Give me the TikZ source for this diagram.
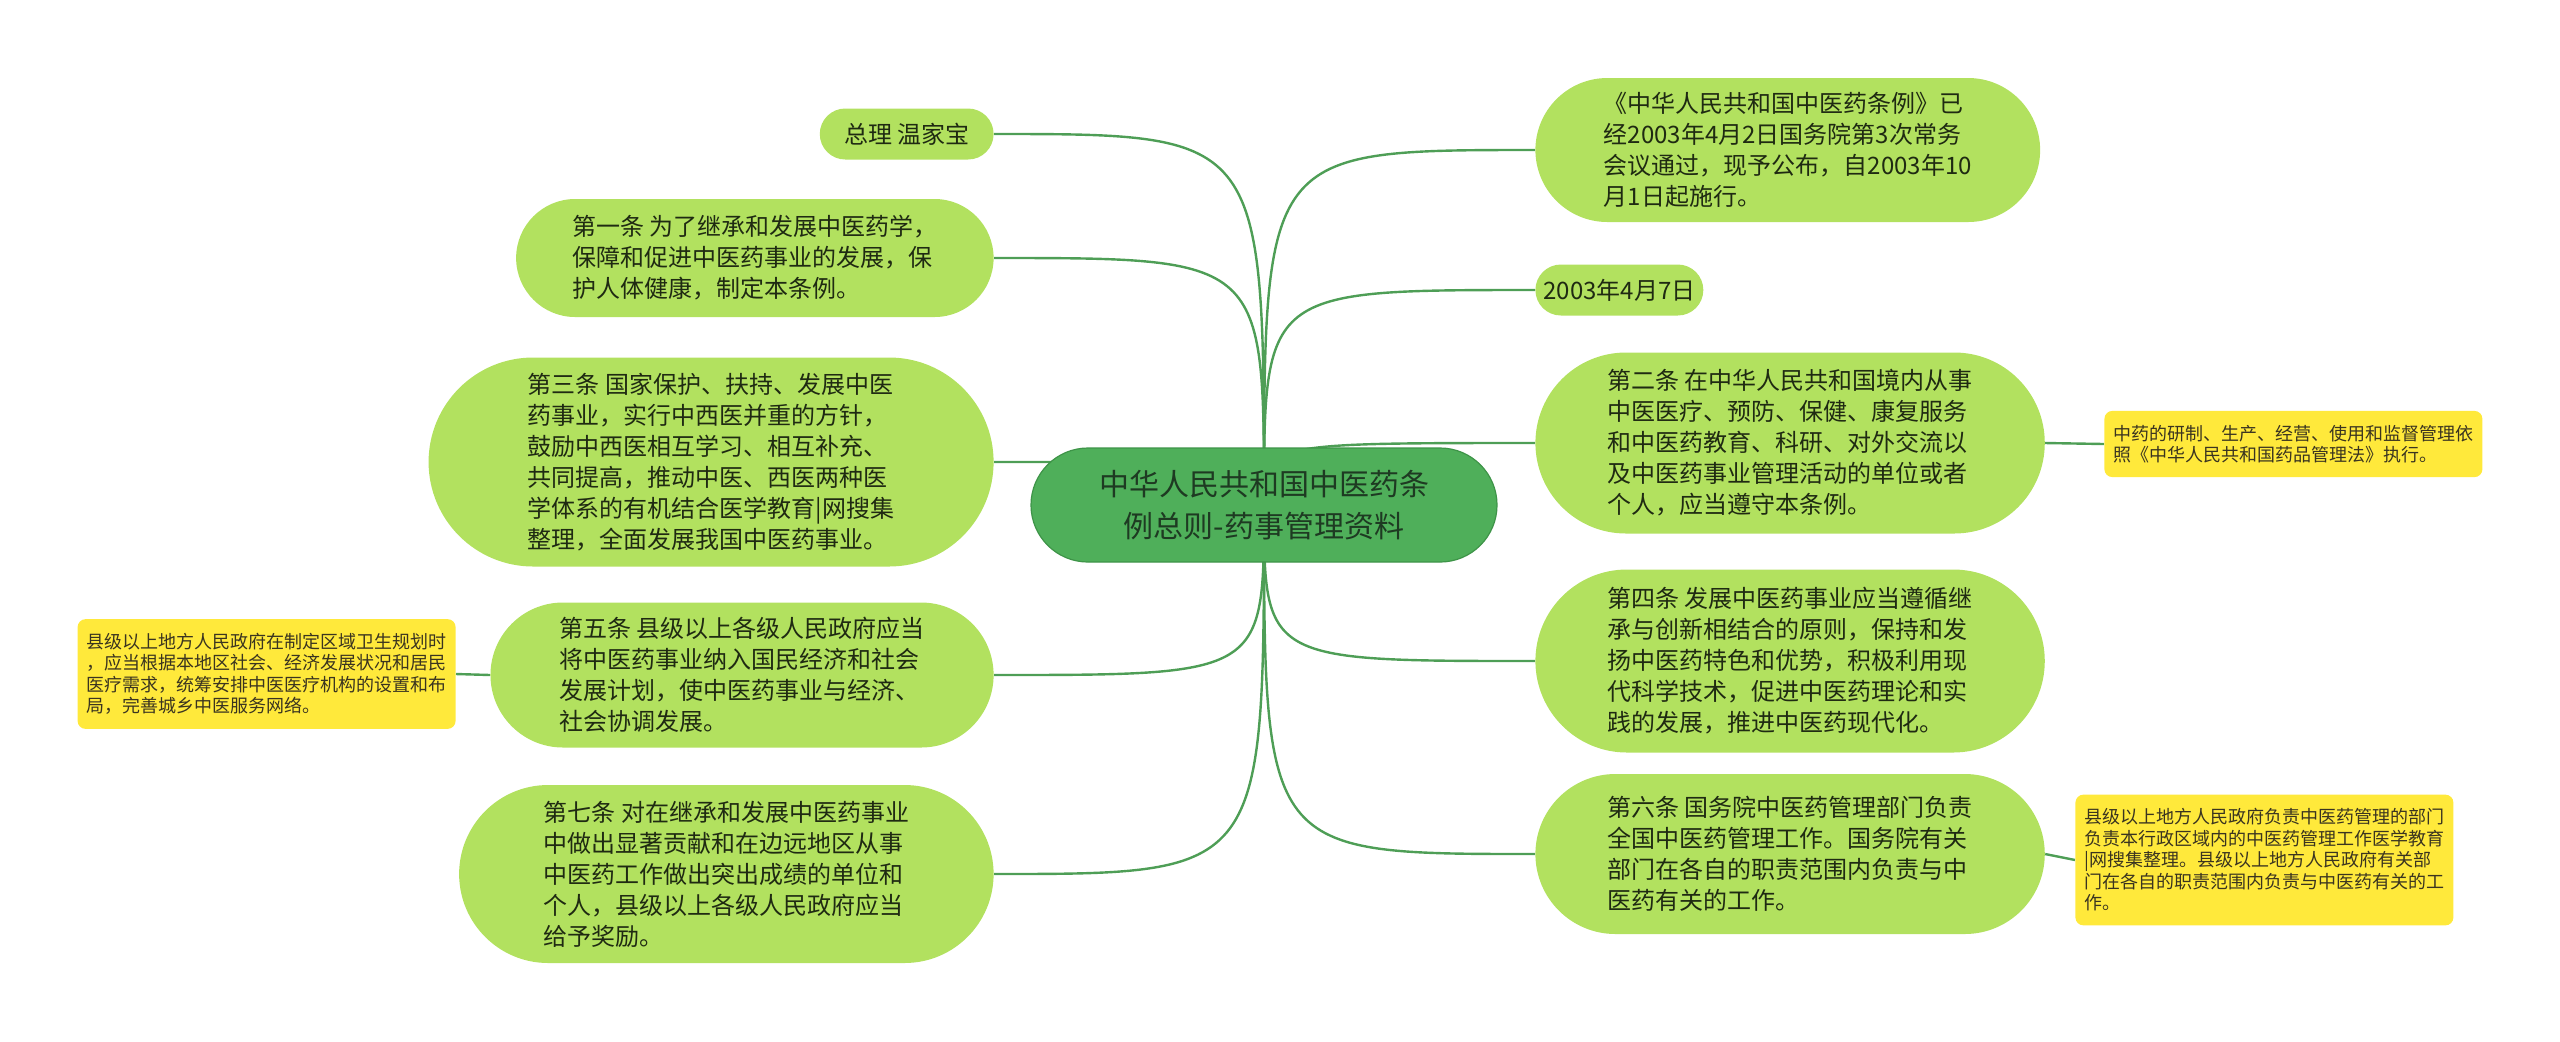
\documentclass[tikz,border=0pt]{standalone}
\usepackage{fontspec}
\setmainfont{Noto Sans CJK SC}
\usetikzlibrary{backgrounds}

\definecolor{leafgreen}{HTML}{B2E15F}
\definecolor{leaftext}{HTML}{1F2A12}
\definecolor{rootgreen}{HTML}{4FAF5A}
\definecolor{rootline}{HTML}{3E9448}
\definecolor{roottext}{HTML}{1E3A22}
\definecolor{branchgreen}{HTML}{4E9E56}
\definecolor{noteyellow}{HTML}{FFE93B}
\definecolor{notetext}{HTML}{3A3420}

\tikzset{
  leaf/.style={rectangle, rounded corners=#1, minimum height=2*#1,
    inner xsep=0.95*#1, inner ysep=2pt, fill=leafgreen, text=leaftext, align=left,
    font=\fontsize{12pt}{15.5pt}\selectfont},
  root/.style={rectangle, rounded corners=28.5pt, minimum height=57pt,
    inner xsep=34pt, inner ysep=2pt, fill=rootgreen, draw=rootline, line width=0.6pt,
    text=roottext, align=center, font=\fontsize{15pt}{21pt}\selectfont},
  note/.style={rectangle, rounded corners=4pt, fill=noteyellow, text=notetext,
    align=left, inner xsep=4.5pt, inner ysep=7pt,
    font=\fontsize{9pt}{10.75pt}\selectfont},
  branch/.style={draw=branchgreen, line width=1.2pt},
}

\begin{document}
\begin{tikzpicture}[x=0.5pt, y=-0.5pt]
  \useasboundingbox (0,0) rectangle (2560,1041);
  \node[root] (root) at (1264,505) {中华人民共和国中医药条\\例总则-药事管理资料};
  % left side
  \node[leaf=12.75pt, anchor=east] (zongli) at (994,134) {总理 温家宝};
  \node[leaf=29.5pt, anchor=east] (art1) at (994,258) {第一条 为了继承和发展中医药学，\\保障和促进中医药事业的发展，保\\护人体健康，制定本条例。};
  \node[leaf=52.25pt, anchor=east] (art3) at (994,462) {第三条 国家保护、扶持、发展中医\\药事业，实行中西医并重的方针，\\鼓励中西医相互学习、相互补充、\\共同提高，推动中医、西医两种医\\学体系的有机结合医学教育|网搜集\\整理，全面发展我国中医药事业。};
  \node[leaf=36.25pt, anchor=east] (art5) at (994,675) {第五条 县级以上各级人民政府应当\\将中医药事业纳入国民经济和社会\\发展计划，使中医药事业与经济、\\社会协调发展。};
  \node[leaf=44.5pt, anchor=east] (art7) at (994,874) {第七条 对在继承和发展中医药事业\\中做出显著贡献和在边远地区从事\\中医药工作做出突出成绩的单位和\\个人，县级以上各级人民政府应当\\给予奖励。};
  \node[note, anchor=east] (note5) at (456,674) {县级以上地方人民政府在制定区域卫生规划时\\，应当根据本地区社会、经济发展状况和居民\\医疗需求，统筹安排中医医疗机构的设置和布\\局，完善城乡中医服务网络。};
  % right side
  \node[leaf=36pt, anchor=west] (decree) at (1535,150) {《中华人民共和国中医药条例》已\\经2003年4月2日国务院第3次常务\\会议通过，现予公布，自2003年10\\月1日起施行。};
  \node[leaf=12.75pt, inner xsep=4pt, anchor=west] (date) at (1535,290) {2003年4月7日};
  \node[leaf=45.25pt, inner xsep=36pt, anchor=west] (art2) at (1535,443) {第二条 在中华人民共和国境内从事\\中医医疗、预防、保健、康复服务\\和中医药教育、科研、对外交流以\\及中医药事业管理活动的单位或者\\个人，应当遵守本条例。};
  \node[leaf=45.75pt, inner xsep=36pt, anchor=west] (art4) at (1535,661) {第四条 发展中医药事业应当遵循继\\承与创新相结合的原则，保持和发\\扬中医药特色和优势，积极利用现\\代科学技术，促进中医药理论和实\\践的发展，推进中医药现代化。};
  \node[leaf=40pt, inner xsep=36pt, anchor=west] (art6) at (1535,854) {第六条 国务院中医药管理部门负责\\全国中医药管理工作。国务院有关\\部门在各自的职责范围内负责与中\\医药有关的工作。};
  \node[note, anchor=west] (note2) at (2104,444) {中药的研制、生产、经营、使用和监督管理依\\照《中华人民共和国药品管理法》执行。};
  \node[note, anchor=west] (note6) at (2075,860) {县级以上地方人民政府负责中医药管理的部门\\负责本行政区域内的中医药管理工作医学教育\\|网搜集整理。县级以上地方人民政府有关部\\门在各自的职责范围内负责与中医药有关的工\\作。};
  % connectors
  \begin{scope}[on background layer]
    \foreach \n/\a in {zongli/east, art1/east, art3/east, art5/east, art7/east,
                       decree/west, date/west, art2/west, art4/west, art6/west} {
      \draw[branch] (root.center) .. controls (root.center |- \n.\a) .. (\n.\a);
    }
    \draw[branch] (art5.west) -- (note5.east);
    \draw[branch] (art2.east) -- (note2.west);
    \draw[branch] (art6.east) -- (note6.west);
  \end{scope}
\end{tikzpicture}
\end{document}
